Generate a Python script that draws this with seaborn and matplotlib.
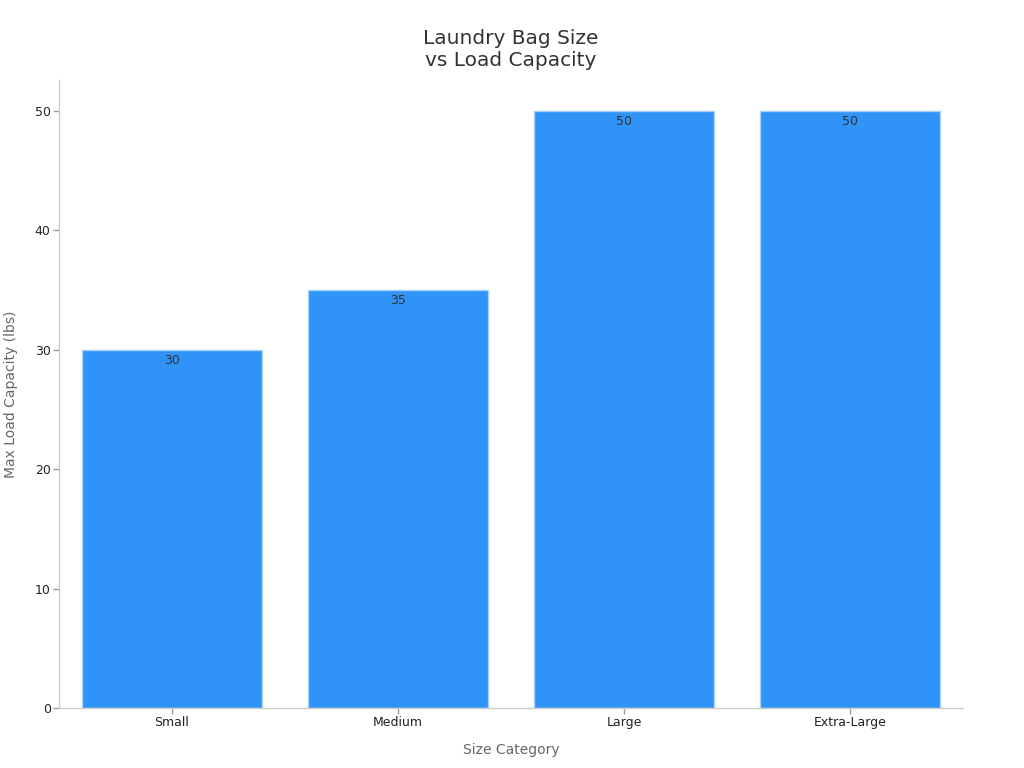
import numpy as np
import pandas as pd
import seaborn as sns
import matplotlib
matplotlib.use("Agg")
import matplotlib.pyplot as plt

# data
sizes = ["Small", "Medium", "Large", "Extra-Large"]
capacity = [30, 35, 50, 50]

df = pd.DataFrame({"Size Category": sizes, "Max Load Capacity (lbs)": capacity})

sns.set_style("white")
plt.rcParams['font.family'] = ['DejaVu Sans']

fig = plt.figure(figsize=(10.24, 7.68), dpi=100)
ax = fig.add_axes([0.0576, 0.078, 0.8828, 0.818])

sns.barplot(data=df, x="Size Category", y="Max Load Capacity (lbs)",
            color="#2f93f8", saturation=1, width=0.8,
            edgecolor="#a9d0fb", linewidth=1, ax=ax)

# value labels just inside bar tops
for i, v in enumerate(capacity):
    ax.text(i, v - 0.35, str(v), ha="center", va="top", fontsize=9, color="#333333")

ax.set_xlim(-0.5, 3.5)
ax.set_ylim(0, 52.6)
ax.set_yticks([0, 10, 20, 30, 40, 50])

ax.set_title("Laundry Bag Size\nvs Load Capacity", fontsize=14.5, color="#333333", pad=10)
ax.set_xlabel("Size Category", fontsize=10, color="#666666", labelpad=10)
ax.set_ylabel("Max Load Capacity (lbs)", fontsize=10, color="#666666", labelpad=12)

for s in ["top", "right"]:
    ax.spines[s].set_visible(False)
for s in ["left", "bottom"]:
    ax.spines[s].set_color("#cccccc")
    ax.spines[s].set_linewidth(1)

ax.tick_params(axis="both", which="both", length=4, width=1, color="#999999",
               labelsize=9, labelcolor="#222222", bottom=True, left=True, pad=2)

fig.savefig("out.png", dpi=100)
